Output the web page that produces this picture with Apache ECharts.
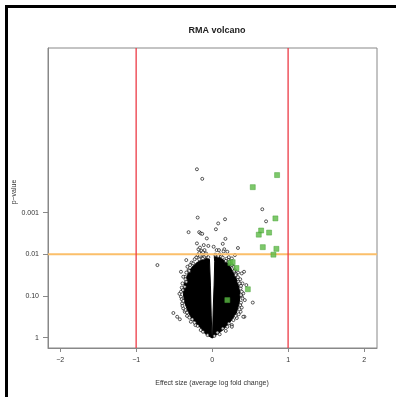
<!DOCTYPE html>
<html>
<head>
<meta charset="utf-8">
<script src="https://cdn.jsdelivr.net/npm/echarts@6/dist/echarts.min.js"></script>
<style>
  html, body { margin: 0; padding: 0; background: #fff; }
  #chart { width: 396px; height: 397px; }
</style>
</head>
<body>
<div id="chart"></div>
<script>
// y values are -log10(p)
const xTicks = [-2, -1, 0, 1, 2];
const yTicks = [0, 1, 2, 3];
const yTickLabels = ['1', '0.10', '0.01', '0.001'];
const foldCutoffs = [-1, 1];
const pCutoff = 2; // p = 0.01

// dense core of the volcano, outline
const coreLeft = [
  [-0.20, 1.80], [-0.14, 1.86], [-0.07, 1.90], [-0.035, 1.88], [-0.022, 1.26],
  [-0.012, 0.54], [-0.006, 0.23], [0, -0.01], [-0.09, 0.09], [-0.16, 0.25],
  [-0.24, 0.40], [-0.30, 0.56], [-0.36, 0.83], [-0.38, 1.07], [-0.36, 1.32],
  [-0.32, 1.52], [-0.27, 1.68]
];
const coreRight = [
  [0.028, 1.95], [0.09, 1.93], [0.15, 1.86], [0.21, 1.78], [0.25, 1.66],
  [0.32, 1.41], [0.36, 1.14], [0.36, 0.86], [0.32, 0.59], [0.24, 0.38],
  [0.14, 0.18], [0.05, 0.06], [0.006, -0.01], [0.008, 0.23], [0.014, 0.66],
  [0.026, 1.26], [0.034, 1.82]
];

// individual genes (not significant)
const genes = [
  [-0.20, 4.04], [-0.13, 3.81], [0.66, 3.08], [0.71, 2.79], [-0.19, 2.88],
  [0.08, 2.74], [0.17, 2.84], [0.05, 2.60], [-0.31, 2.53], [-0.17, 2.53],
  [-0.15, 2.50], [-0.13, 2.49], [-0.07, 2.38], [0.175, 2.37], [-0.20, 2.26],
  [-0.11, 2.22], [-0.05, 2.20], [0.02, 2.18], [0.14, 2.25], [0.34, 2.15],
  [0.06, 2.10], [0.09, 2.10], [0.16, 2.12], [0.20, 2.06], [0.15, 2.07],
  [-0.18, 2.12], [-0.16, 2.16], [-0.14, 2.08], [-0.12, 2.05], [-0.17, 2.03],
  [-0.10, 2.10], [-0.08, 2.02], [-0.19, 1.98], [-0.14, 1.96], [-0.21, 1.92],
  [-0.12, 1.90], [0.19, 1.89], [0.26, 1.90], [0.30, 1.98], [0.12, 1.95],
  [0.22, 1.93], [0.05, 1.97], [0.10, 2.00],
  [-0.72, 1.74], [0.42, 1.58], [0.45, 1.26], [0.535, 0.84], [-0.51, 0.59],
  [-0.46, 0.50], [-0.425, 0.44], [0.425, 0.50], [-0.41, 1.58], [-0.355, 1.46],
  [0.37, 1.40], [0.34, 1.56],
  [-0.34, 1.86], [-0.325, 1.70], [-0.38, 1.46], [-0.34, 1.34], [-0.385, 1.14],
  [-0.41, 0.98], [-0.395, 0.82], [-0.38, 0.70], [-0.33, 0.52], [-0.28, 0.38],
  [-0.43, 1.05], [-0.36, 1.22], [-0.31, 1.62], [-0.27, 1.80], [-0.36, 0.62],
  [-0.22, 0.30], [-0.15, 0.18],
  [0.215, 1.86], [0.28, 1.70], [0.315, 1.53], [0.345, 1.34], [0.375, 1.18],
  [0.39, 0.98], [0.37, 0.78], [0.375, 0.62], [0.325, 0.47], [0.26, 0.30],
  [0.39, 1.54], [0.40, 1.30], [0.41, 1.06], [0.41, 0.50], [0.26, 0.26],
  [0.18, 0.16], [0.10, 0.08], [0.30, 1.62], [0.24, 1.78], [0.43, 0.90],
  // edge of the dense core
  [-0.23, 1.88], [-0.25, 1.78], [-0.29, 1.74], [-0.30, 1.60], [-0.34, 1.56],
  [-0.35, 1.40], [-0.39, 1.30], [-0.40, 1.20], [-0.41, 1.10], [-0.40, 0.92],
  [-0.38, 0.88], [-0.39, 0.76], [-0.35, 0.66], [-0.33, 0.60], [-0.30, 0.48],
  [-0.26, 0.44], [-0.23, 0.36], [-0.19, 0.28], [-0.12, 0.14], [-0.06, 0.06],
  [-0.17, 1.88], [-0.10, 1.94], [-0.05, 1.93], [-0.16, 1.96], [-0.08, 1.97],
  [0.04, 1.99], [0.08, 1.96], [0.14, 1.92], [0.18, 1.84], [0.23, 1.82],
  [0.26, 1.74], [0.29, 1.60], [0.31, 1.50], [0.34, 1.45], [0.36, 1.30],
  [0.38, 1.24], [0.39, 1.10], [0.38, 1.02], [0.40, 0.94], [0.38, 0.84],
  [0.39, 0.72], [0.36, 0.68], [0.35, 0.56], [0.31, 0.52], [0.28, 0.42],
  [0.22, 0.34], [0.20, 0.26], [0.14, 0.22], [0.07, 0.12], [0.03, 0.04]
];

// significant genes
const sigGenes = [
  [0.855, 3.90], [0.535, 3.61], [0.833, 2.86], [0.645, 2.57], [0.614, 2.47],
  [0.75, 2.52], [0.667, 2.17], [0.846, 2.13], [0.807, 1.99], [0.24, 1.79],
  [0.27, 1.81], [0.32, 1.67], [0.47, 1.16], [0.20, 0.90]
];

const xMin = -2.16, xMax = 2.17, yMin = -0.25, yMax = 6.95;
const cores = [coreLeft, coreRight];

const chart = echarts.init(document.getElementById('chart'));

const option = {
  animation: false,
  backgroundColor: '#fff',
  title: {
    text: 'RMA volcano',
    left: 212,
    top: 21,
    textAlign: 'center',
    textStyle: { fontSize: 9, fontWeight: 'bold', color: '#222', fontFamily: 'Liberation Sans' }
  },
  graphic: [
    {
      type: 'rect',
      shape: { x: 6.5, y: 6.5, width: 500, height: 500 },
      style: { fill: 'none', stroke: '#000', lineWidth: 3 }
    },
    {
      type: 'text',
      x: 14.5,
      y: 192,
      rotation: Math.PI / 2,
      style: {
        text: 'p\u2212value', fontSize: 7, fill: '#333',
        fontFamily: 'Liberation Sans', align: 'center', verticalAlign: 'middle'
      }
    },
    {
      type: 'text',
      x: 212,
      y: 383,
      style: {
        text: 'Effect size (average log fold change)', fontSize: 7, fill: '#333',
        fontFamily: 'Liberation Sans', align: 'center', verticalAlign: 'middle'
      }
    }
  ],
  grid: {
    left: 48, right: 19, top: 48, bottom: 49,
    show: true, borderColor: '#888', borderWidth: 1, backgroundColor: 'transparent'
  },
  xAxis: {
    type: 'value',
    min: xMin,
    max: xMax,
    axisLine: { show: true, onZero: false, lineStyle: { color: '#888' } },
    axisTick: { show: true, length: 4, customValues: xTicks, lineStyle: { color: '#888' } },
    axisLabel: {
      customValues: xTicks, fontSize: 7, color: '#333', margin: 9,
      fontFamily: 'Liberation Sans',
      formatter: v => (v < 0 ? '\u2212' + Math.abs(v) : String(v))
    },
    splitLine: { show: false }
  },
  yAxis: {
    type: 'value',
    min: yMin,
    max: yMax,
    axisLine: { show: true, onZero: false, lineStyle: { color: '#888' } },
    axisTick: { show: true, length: 5, customValues: yTicks, lineStyle: { color: '#888' } },
    axisLabel: {
      customValues: yTicks, fontSize: 7, color: '#333', margin: 9,
      fontFamily: 'Liberation Sans',
      formatter: v => yTickLabels[yTicks.indexOf(Math.round(v))] || ''
    },
    splitLine: { show: false }
  },
  series: [
    {
      type: 'custom',
      data: cores.map((c, i) => i),
      renderItem: function (params, api) {
        const pts = cores[params.dataIndex].map(p => api.coord(p));
        return {
          type: 'polygon',
          shape: { points: pts },
          style: { fill: '#000', stroke: '#000', lineWidth: 1 }
        };
      },
      z: 2
    },
    {
      type: 'scatter',
      data: genes,
      symbol: 'circle',
      symbolSize: 3,
      itemStyle: { color: '#fff', borderColor: '#000', borderWidth: 0.8 },
      z: 3
    },
    {
      type: 'line',
      data: [[xMin, pCutoff], [xMax, pCutoff]],
      symbol: 'none',
      lineStyle: { color: '#fbbf6a', width: 2 },
      z: 4
    },
    ...foldCutoffs.map(fc => ({
      type: 'line',
      data: [[fc, yMin], [fc, yMax]],
      symbol: 'none',
      lineStyle: { color: '#ec3a45', width: 1.3 },
      z: 4
    })),
    {
      type: 'scatter',
      data: sigGenes,
      symbol: 'rect',
      symbolSize: 5,
      itemStyle: { color: '#5dba45', borderColor: '#46a034', borderWidth: 0.6 },
      z: 5
    }
  ]
};

chart.setOption(option);
</script>
</body>
</html>
